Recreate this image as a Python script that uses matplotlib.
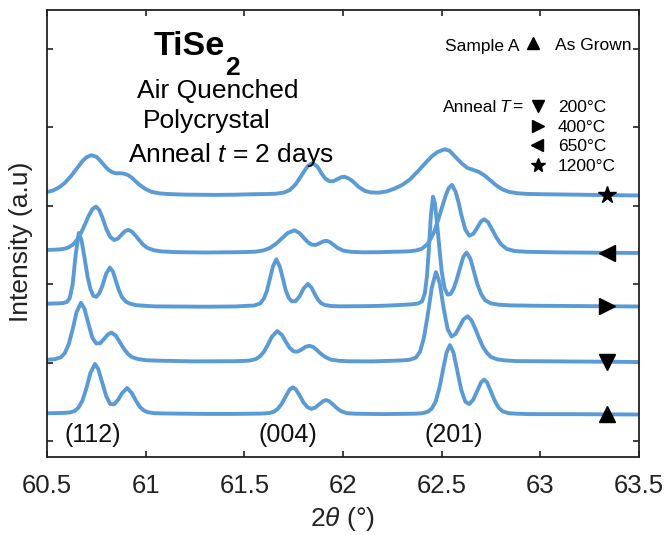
import numpy as np
import matplotlib
matplotlib.use("Agg")
import matplotlib.pyplot as plt

plt.rcParams['font.family'] = ['Liberation Sans', 'DejaVu Sans']
plt.rcParams['mathtext.fontset'] = 'custom'
plt.rcParams['mathtext.rm'] = 'Liberation Sans'
plt.rcParams['mathtext.it'] = 'Liberation Sans:italic'
plt.rcParams['mathtext.bf'] = 'Liberation Sans:bold'

# ---------------- data: (2theta [deg], stacked intensity [a.u.]) ----------------
as_grown = np.array([
    (60.50, 27.7), (60.54, 27.9), (60.58, 28.1), (60.60, 28.3), (60.62, 28.7), (60.64, 30.0),
    (60.66, 33.5), (60.68, 40.6), (60.70, 53.0), (60.72, 68.0), (60.743, 77.0), (60.76, 71.8),
    (60.78, 58.3), (60.80, 45.0), (60.82, 37.0), (60.84, 36.7), (60.86, 41.1), (60.88, 47.8),
    (60.906, 53.0), (60.93, 47.8), (60.95, 40.5), (60.97, 34.2), (60.99, 30.6), (61.01, 28.8),
    (61.04, 27.9), (61.08, 27.6), (61.20, 27.3), (61.30, 27.1), (61.45, 27.1),
    (61.58, 27.4), (61.61, 27.7), (61.63, 28.1), (61.65, 29.3), (61.67, 32.2), (61.69, 37.4),
    (61.71, 44.7), (61.73, 51.6), (61.746, 53.7), (61.76, 51.9), (61.78, 45.6), (61.80, 38.5),
    (61.82, 33.8), (61.84, 32.1), (61.86, 33.6), (61.88, 36.8), (61.90, 39.9), (61.915, 40.9),
    (61.93, 39.7), (61.95, 36.4), (61.97, 32.6), (61.99, 29.9), (62.02, 27.8), (62.06, 27.3),
    (62.20, 26.9),
    (62.36, 27.3), (62.39, 27.6), (62.41, 28.1), (62.43, 29.3), (62.45, 32.4), (62.47, 39.7),
    (62.49, 54.1), (62.51, 74.4), (62.525, 88.6), (62.542, 95.9), (62.56, 88.3), (62.58, 69.3),
    (62.60, 50.5), (62.62, 39.3), (62.64, 36.9), (62.66, 41.3), (62.68, 50.1), (62.70, 58.8),
    (62.715, 61.4), (62.73, 58.6), (62.75, 49.3), (62.77, 39.7), (62.79, 33.0), (62.81, 29.5),
    (62.84, 27.8), (62.88, 27.3), (62.94, 26.9), (63.20, 26.8), (63.50, 26.5)])

anneal_200 = np.array([
    (60.50, 81.2), (60.54, 81.8), (60.57, 83.7), (60.59, 87.8), (60.61, 96.8), (60.63, 111.7),
    (60.65, 128.9), (60.672, 138.2), (60.69, 132.1), (60.71, 117.3), (60.73, 103.1), (60.75, 97.5),
    (60.77, 97.8), (60.79, 102.3), (60.81, 106.8), (60.827, 108.4), (60.85, 105.0), (60.87, 98.6),
    (60.89, 92.1), (60.91, 87.1), (60.93, 83.9), (60.96, 82.0), (61.00, 80.8), (61.05, 80.4),
    (61.25, 79.6),
    (61.45, 79.8), (61.50, 80.1), (61.53, 80.5), (61.56, 82.1), (61.58, 84.8), (61.60, 89.4),
    (61.62, 96.6), (61.64, 104.4), (61.667, 109.9), (61.69, 106.2), (61.71, 99.3), (61.73, 93.1),
    (61.75, 89.6), (61.77, 89.4), (61.79, 91.5), (61.81, 94.2), (61.83, 95.2), (61.85, 93.9),
    (61.87, 90.5), (61.89, 86.9), (61.91, 84.0), (61.94, 81.3), (61.98, 80.2), (62.03, 79.7),
    (62.15, 79.6),
    (62.30, 80.6), (62.34, 81.3), (62.37, 83.5), (62.39, 89.2), (62.41, 103.0), (62.43, 126.8),
    (62.45, 153.5), (62.471, 168.9), (62.49, 158.2), (62.51, 132.7), (62.53, 112.0), (62.55, 104.5),
    (62.57, 107.0), (62.59, 114.0), (62.61, 121.5), (62.631, 124.7), (62.65, 121.0), (62.67, 112.5),
    (62.69, 102.7), (62.71, 93.8), (62.73, 88.0), (62.75, 84.0), (62.78, 81.7), (62.82, 80.6),
    (62.88, 79.9), (63.10, 79.6), (63.50, 79.0)])

anneal_400 = np.array([
    (60.50, 137.3), (60.55, 137.6), (60.58, 137.9), (60.60, 138.9), (60.615, 142.8), (60.63, 156.7),
    (60.645, 185.8), (60.661, 208.1), (60.675, 200.7), (60.69, 183.5), (60.705, 165.0), (60.72, 152.0),
    (60.735, 145.1), (60.75, 144.2), (60.765, 147.8), (60.78, 154.8), (60.80, 167.4), (60.819, 173.4),
    (60.835, 169.0), (60.85, 159.5), (60.865, 150.4), (60.88, 143.8), (60.90, 139.3), (60.92, 137.4),
    (60.95, 135.9), (61.00, 135.1), (61.05, 134.6), (61.30, 134.3), (61.45, 134.5),
    (61.50, 135.0), (61.55, 135.5), (61.58, 137.5), (61.60, 142.7), (61.615, 150.5), (61.63, 162.7),
    (61.645, 174.5), (61.662, 181.7), (61.68, 174.3), (61.695, 162.6), (61.71, 150.5), (61.725, 143.2),
    (61.74, 139.7), (61.76, 139.9), (61.78, 144.7), (61.80, 152.4), (61.822, 157.1), (61.84, 153.5),
    (61.86, 145.7), (61.875, 140.8), (61.89, 137.7), (61.91, 135.9), (61.94, 135.0), (61.98, 134.7),
    (62.10, 134.8), (62.20, 135.2),
    (62.30, 136.1), (62.35, 136.7), (62.38, 137.5), (62.40, 139.5), (62.415, 147.9), (62.425, 164.1),
    (62.435, 191.1), (62.445, 224.7), (62.456, 244.3), (62.465, 238.3), (62.475, 220.7), (62.485, 200.4),
    (62.50, 169.6), (62.515, 152.6), (62.53, 146.4), (62.545, 147.0), (62.56, 152.2), (62.575, 160.5),
    (62.59, 171.1), (62.61, 184.3), (62.626, 188.4), (62.645, 182.5), (62.66, 172.1), (62.68, 157.4),
    (62.70, 146.9), (62.72, 140.8), (62.75, 137.6), (62.79, 136.3), (62.85, 135.6), (63.00, 135.2),
    (63.50, 134.5)])

anneal_650 = np.array([
    (60.50, 191.1), (60.53, 191.2), (60.56, 191.5), (60.59, 192.3), (60.61, 193.8), (60.63, 196.1),
    (60.65, 200.7), (60.67, 207.1), (60.69, 215.5), (60.71, 224.7), (60.73, 231.9), (60.748, 234.4),
    (60.765, 231.0), (60.78, 223.8), (60.80, 212.4), (60.82, 204.2), (60.84, 201.0), (60.86, 202.5),
    (60.88, 206.9), (60.895, 209.8), (60.911, 211.2), (60.93, 209.4), (60.95, 205.1), (60.97, 200.2),
    (60.99, 195.7), (61.01, 193.0), (61.04, 190.8), (61.08, 189.6), (61.15, 188.9), (61.30, 188.5),
    (61.40, 188.7), (61.47, 188.8), (61.52, 189.0), (61.56, 189.4), (61.60, 190.7), (61.63, 193.1),
    (61.66, 197.1), (61.69, 202.6), (61.72, 208.0), (61.754, 210.7), (61.78, 207.9), (61.80, 203.5),
    (61.82, 199.2), (61.84, 196.4), (61.86, 196.0), (61.88, 197.6), (61.90, 199.6), (61.915, 200.3),
    (61.93, 199.3), (61.95, 196.5), (61.97, 193.4), (62.00, 190.4), (62.04, 189.2), (62.10, 188.7),
    (62.18, 188.8),
    (62.25, 189.2), (62.30, 189.4), (62.34, 189.8), (62.37, 190.5), (62.40, 192.3), (62.43, 197.3),
    (62.46, 208.2), (62.48, 219.6), (62.50, 232.5), (62.52, 245.2), (62.535, 252.7), (62.552, 256.1),
    (62.57, 249.6), (62.585, 239.2), (62.60, 225.7), (62.62, 211.4), (62.64, 205.3), (62.66, 207.1),
    (62.68, 213.2), (62.70, 219.8), (62.715, 221.7), (62.735, 218.9), (62.755, 211.8), (62.775, 204.3),
    (62.80, 196.9), (62.83, 192.0), (62.87, 190.0), (62.93, 189.2), (63.10, 188.6), (63.50, 188.0)])

anneal_1200 = np.array([
    (60.50, 249.0), (60.53, 250.5), (60.56, 253.5), (60.59, 258.0), (60.62, 264.5), (60.65, 272.2),
    (60.68, 280.0), (60.70, 283.7), (60.725, 285.8), (60.75, 284.2), (60.77, 280.4), (60.79, 275.6),
    (60.81, 271.4), (60.83, 268.8), (60.85, 267.6), (60.87, 267.8), (60.89, 267.4), (60.91, 266.0),
    (60.93, 263.2), (60.95, 259.5), (60.97, 256.0), (61.00, 251.9), (61.03, 249.2), (61.07, 247.6),
    (61.12, 246.9), (61.20, 246.4), (61.35, 246.1), (61.45, 246.3),
    (61.55, 246.8), (61.62, 247.0), (61.66, 247.3), (61.70, 248.4), (61.73, 250.9), (61.76, 256.7),
    (61.79, 265.7), (61.82, 274.6), (61.845, 278.1), (61.87, 274.5), (61.89, 267.9), (61.91, 262.5),
    (61.93, 259.8), (61.95, 259.8), (61.97, 261.6), (61.99, 263.7), (62.007, 264.3), (62.03, 262.4),
    (62.05, 259.6), (62.08, 254.0), (62.11, 250.2), (62.14, 248.6), (62.18, 248.3),
    (62.22, 249.5), (62.26, 252.3), (62.30, 256.0), (62.34, 261.7), (62.38, 269.8), (62.42, 278.5),
    (62.45, 284.7), (62.48, 289.1), (62.515, 291.7), (62.54, 290.2), (62.57, 284.0), (62.60, 277.9),
    (62.63, 273.1), (62.66, 271.1), (62.69, 268.9), (62.72, 265.1), (62.75, 260.0), (62.78, 255.1),
    (62.81, 251.4), (62.84, 249.2), (62.88, 247.8), (62.93, 247.1), (63.00, 246.8), (63.50, 245.5)])

series = [as_grown, anneal_200, anneal_400, anneal_650, anneal_1200]
series_markers = ['^', 'v', '>', '<', '*']
marker_x = 63.34

xticks = [60.5, 61, 61.5, 62, 62.5, 63, 63.5]
xtick_labels = ['60.5', '61', '61.5', '62', '62.5', '63', '63.5']
peak_labels = ['(112)', '(004)', '(201)']
peak_label_x = [60.73, 61.72, 62.56]

legend_labels = ['200\u00b0C', '400\u00b0C', '650\u00b0C', '1200\u00b0C']

# ---------------- figure ----------------
W, H = 665, 535
fig = plt.figure(figsize=(W / 100, H / 100), dpi=100)

def fx(px):
    return px / W

def fy(py):
    return 1 - py / H

ax_l, ax_r, ax_t, ax_b = 47, 639, 10, 457
ax = fig.add_axes([fx(ax_l), fy(ax_b), (ax_r - ax_l) / W, (ax_b - ax_t) / H])

blue = '#5B9BD5'
for data, m in zip(series, series_markers):
    xs, ys = data[:, 0], data[:, 1]
    ax.plot(xs, ys, color=blue, lw=2.8, solid_joinstyle='round', solid_capstyle='round', zorder=2)
    my = np.interp(marker_x, xs, ys)
    ms = 13 if m == '*' else 12
    ax.plot([marker_x], [my], marker=m, color='black', ms=ms, ls='none', zorder=3)

ax.set_xlim(60.5, 63.5)
ax.set_ylim(-16, 431)
ax.set_xticks(xticks)
ax.set_xticklabels(xtick_labels)
ax.set_yticks(np.arange(6) * 78.4)
ax.set_yticklabels([])
ax.tick_params(axis='both', direction='in', length=4.5, width=1.2, color='#222222',
               top=True, right=True, labelsize=18.5, pad=12.5, labelcolor='#222222')
for sp in ax.spines.values():
    sp.set_linewidth(1.3)
    sp.set_color('#222222')

# peak labels
for lab, px in zip(peak_labels, peak_label_x):
    ax.text(px, 441 - 441.7, lab, fontsize=18, ha='center', va='baseline', color='#111111')

# axis labels
fig.text(fx(342), fy(519), '2$\\theta$ (\u00b0)', fontsize=19, ha='center', va='center', color='#222222')
fig.text(fx(21), fy(242), 'Intensity (a.u)', fontsize=19, ha='center', va='center',
         rotation=90, color='#222222')

# title block
fig.text(fx(154), fy(55), 'TiSe', fontsize=24.5, fontweight='bold', ha='left', va='baseline')
fig.text(fx(225), fy(75), '2', fontsize=19, fontweight='bold', ha='left', va='baseline')
fig.text(fx(137), fy(98), 'Air Quenched', fontsize=19, ha='left', va='baseline')
fig.text(fx(143), fy(128), 'Polycrystal', fontsize=19, ha='left', va='baseline')
fig.text(fx(128), fy(162), 'Anneal $t$ = 2 days', fontsize=19, ha='left', va='baseline')

# legend block
fs_leg = 12.5
fig.text(fx(445), fy(50.5), 'Sample A', fontsize=fs_leg, ha='left', va='baseline')
fig.text(fx(555), fy(50.5), 'As Grown', fontsize=fs_leg, ha='left', va='baseline')
fig.text(fx(443), fy(111.5), 'Anneal', fontsize=fs_leg, ha='left', va='baseline')
fig.text(fx(499), fy(111.5), 'T', fontsize=fs_leg, ha='left', va='baseline', style='italic')
fig.text(fx(512), fy(111.5), '=', fontsize=fs_leg, ha='left', va='baseline')
leg_marker_pos = [(533, 43, '^'), (537.5, 106, 'v'), (538, 126, '>'), (537, 145, '<'), (538, 165, '*')]
for (mx, my, m) in leg_marker_pos:
    fig.lines.append(plt.Line2D([fx(mx)], [fy(my)], marker=m, color='black',
                                ms=10.5 if m == '*' else 9, ls='none', transform=fig.transFigure))
leg_text_y = [111.5, 131.5, 150.7, 170.7]
for lab, ty in zip(legend_labels, leg_text_y):
    fig.text(fx(558), fy(ty), lab, fontsize=fs_leg, ha='left', va='baseline')

fig.savefig('out.png', dpi=100)
